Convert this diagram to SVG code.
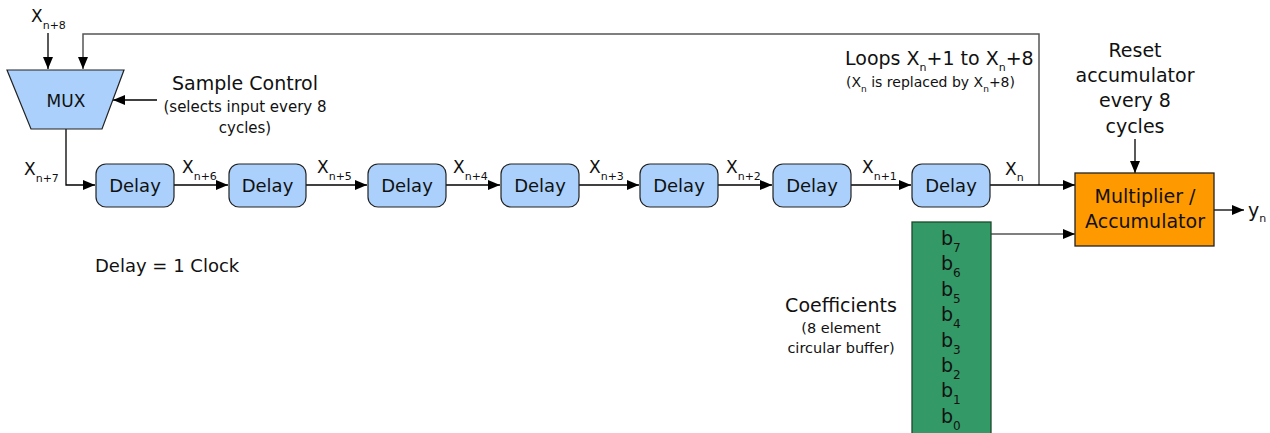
<svg xmlns="http://www.w3.org/2000/svg" width="1270" height="433" viewBox="0 0 1270 433">
  <defs>
    <marker id="arrow" markerUnits="userSpaceOnUse" markerWidth="12" markerHeight="10" refX="12" refY="5" orient="auto">
      <path d="M0,0 L12,5 L0,10 Z" fill="#000"/>
    </marker>
    <style>
      text { font-family: "DejaVu Sans", Verdana, sans-serif; fill: #111; }
      .wire { fill: none; stroke: #000; stroke-width: 1.3; }
      .wire-g { fill: none; stroke: #555; stroke-width: 1.5; }
      .delay { fill: #aad0fb; stroke: #222; stroke-width: 1.2; }
      .box-t { font-size: 18px; text-anchor: middle; }
      .lbl { font-size: 17px; }
      .sub { font-size: 11px; }
      .big { font-size: 19px; }
      .small { font-size: 15px; }
      .mid { text-anchor: middle; }
      .coef { font-size: 19px; }
      .csub { font-size: 12px; }
    </style>
  </defs>

  <!-- connectors -->
  <g id="connectors">
    <!-- feedback loop from X_n back to the MUX -->
    <polyline class="wire-g" points="1039,185 1039,34 83,34 83,69" marker-end="url(#arrow)"/>
    <!-- new sample input -->
    <line class="wire" x1="48" y1="33" x2="48" y2="69" marker-end="url(#arrow)"/>
    <!-- sample control into MUX -->
    <line class="wire" x1="157" y1="100" x2="113" y2="100" marker-end="url(#arrow)"/>
    <!-- MUX output into the delay line -->
    <polyline class="wire" points="66,129 66,185 95,185" marker-end="url(#arrow)"/>
    <!-- delay chain -->
    <line class="wire" x1="174" y1="185" x2="228" y2="185" marker-end="url(#arrow)"/>
    <line class="wire" x1="306" y1="185" x2="367" y2="185" marker-end="url(#arrow)"/>
    <line class="wire" x1="446" y1="185" x2="500" y2="185" marker-end="url(#arrow)"/>
    <line class="wire" x1="579" y1="185" x2="639" y2="185" marker-end="url(#arrow)"/>
    <line class="wire" x1="718" y1="185" x2="772" y2="185" marker-end="url(#arrow)"/>
    <line class="wire" x1="851" y1="185" x2="911" y2="185" marker-end="url(#arrow)"/>
    <!-- X_n into the multiplier -->
    <line class="wire" x1="990" y1="185" x2="1075" y2="185" marker-end="url(#arrow)"/>
    <!-- coefficient into the multiplier -->
    <line class="wire-g" x1="991" y1="234" x2="1075" y2="234" marker-end="url(#arrow)"/>
    <!-- reset control -->
    <line class="wire" x1="1135" y1="139" x2="1135" y2="173" marker-end="url(#arrow)"/>
    <!-- output -->
    <line class="wire" x1="1214" y1="210" x2="1244" y2="210" marker-end="url(#arrow)"/>
  </g>

  <!-- multiplexer -->
  <g id="mux">
    <polygon points="7,70 124,70 102,129 31,129" fill="#aad0fb" stroke="#222" stroke-width="1.2"/>
    <text x="66" y="107" class="mid" style="font-size:17px">MUX</text>
  </g>

  <!-- delay stages -->
  <g id="delay1"><rect class="delay" x="96" y="164" width="78" height="43" rx="10"/><text class="box-t" x="135" y="192">Delay</text></g>
  <g id="delay2"><rect class="delay" x="229" y="164" width="77" height="43" rx="10"/><text class="box-t" x="267.5" y="192">Delay</text></g>
  <g id="delay3"><rect class="delay" x="368" y="164" width="78" height="43" rx="10"/><text class="box-t" x="407" y="192">Delay</text></g>
  <g id="delay4"><rect class="delay" x="501" y="164" width="78" height="43" rx="10"/><text class="box-t" x="540" y="192">Delay</text></g>
  <g id="delay5"><rect class="delay" x="640" y="164" width="78" height="43" rx="10"/><text class="box-t" x="679" y="192">Delay</text></g>
  <g id="delay6"><rect class="delay" x="773" y="164" width="78" height="43" rx="10"/><text class="box-t" x="812" y="192">Delay</text></g>
  <g id="delay7"><rect class="delay" x="912" y="164" width="78" height="43" rx="10"/><text class="box-t" x="951" y="192">Delay</text></g>

  <!-- multiplier / accumulator -->
  <g id="mac">
    <rect x="1075" y="173" width="139" height="73" fill="#ff9900" stroke="#222" stroke-width="1.3"/>
    <text x="1145" y="203" class="mid big">Multiplier /</text>
    <text x="1145" y="228" class="mid big">Accumulator</text>
  </g>

  <!-- coefficient buffer -->
  <g id="coefficients">
    <rect x="912" y="222" width="79" height="215" fill="#339966" stroke="#1d4a2c" stroke-width="1.3"/>
    <text x="941" y="245" class="coef">b<tspan class="csub" dy="7">7</tspan></text>
    <text x="941" y="270" class="coef">b<tspan class="csub" dy="7">6</tspan></text>
    <text x="941" y="295.5" class="coef">b<tspan class="csub" dy="7">5</tspan></text>
    <text x="941" y="321" class="coef">b<tspan class="csub" dy="7">4</tspan></text>
    <text x="941" y="346.5" class="coef">b<tspan class="csub" dy="7">3</tspan></text>
    <text x="941" y="372" class="coef">b<tspan class="csub" dy="7">2</tspan></text>
    <text x="941" y="397" class="coef">b<tspan class="csub" dy="7">1</tspan></text>
    <text x="941" y="422.5" class="coef">b<tspan class="csub" dy="7">0</tspan></text>
  </g>

  <!-- signal labels -->
  <g id="labels">
    <text x="31" y="22" class="lbl">X<tspan class="sub" dy="7">n+8</tspan></text>
    <text x="24" y="175" class="lbl">X<tspan class="sub" dy="7">n+7</tspan></text>
    <text x="182" y="173" class="lbl">X<tspan class="sub" dy="7">n+6</tspan></text>
    <text x="317" y="173" class="lbl">X<tspan class="sub" dy="7">n+5</tspan></text>
    <text x="453" y="173" class="lbl">X<tspan class="sub" dy="7">n+4</tspan></text>
    <text x="589" y="173" class="lbl">X<tspan class="sub" dy="7">n+3</tspan></text>
    <text x="726" y="173" class="lbl">X<tspan class="sub" dy="7">n+2</tspan></text>
    <text x="862" y="173" class="lbl">X<tspan class="sub" dy="7">n+1</tspan></text>
    <text x="1005" y="175" class="lbl">X<tspan class="sub" dy="6">n</tspan></text>
    <text x="1248" y="217" class="big">y<tspan class="sub" dy="5">n</tspan></text>

    <text x="172" y="90" class="big">Sample Control</text>
    <text x="245" y="112" class="mid small">(selects input every 8</text>
    <text x="245" y="133" class="mid small">cycles)</text>

    <text x="95" y="272" style="font-size:18px">Delay = 1 Clock</text>

    <text x="845" y="65" class="big">Loops X<tspan class="sub" dy="6">n</tspan><tspan dy="-6">+1 to X</tspan><tspan class="sub" dy="6">n</tspan><tspan dy="-6">+8</tspan></text>
    <text x="846" y="87" style="font-size:14px">(X<tspan style="font-size:9px" dy="5">n</tspan><tspan dy="-5"> is replaced by X</tspan><tspan style="font-size:9px" dy="5">n</tspan><tspan dy="-5">+8)</tspan></text>

    <text x="1135" y="57" class="mid big">Reset</text>
    <text x="1135" y="82" class="mid big">accumulator</text>
    <text x="1135" y="107" class="mid big">every 8</text>
    <text x="1135" y="133" class="mid big">cycles</text>

    <text x="841" y="312" class="mid big">Coefficients</text>
    <text x="841" y="333" class="mid" style="font-size:14.5px">(8 element</text>
    <text x="841" y="353" class="mid" style="font-size:14.5px">circular buffer)</text>
  </g>
</svg>
